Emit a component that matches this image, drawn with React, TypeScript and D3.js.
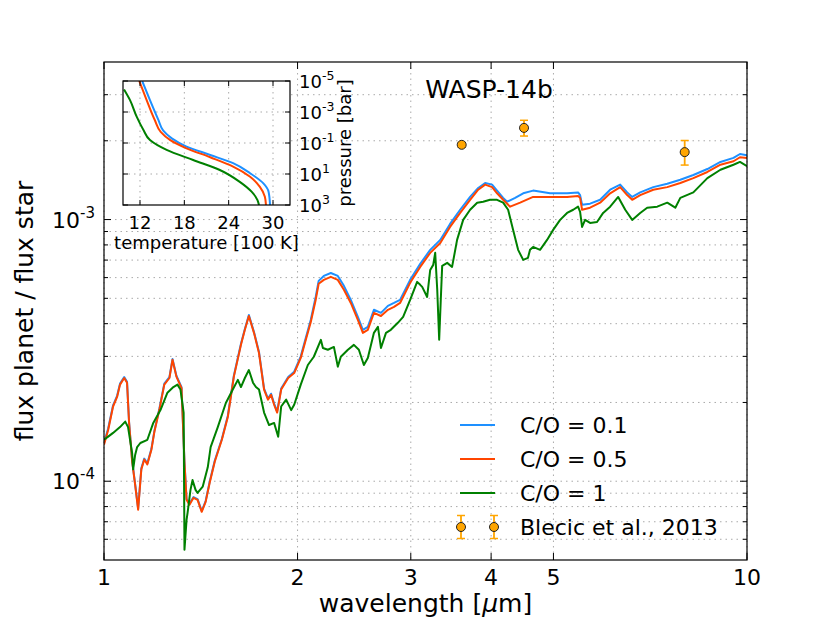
import React from "react";
import * as d3 from "d3";

// ---------- Emission spectra (wavelength in micron, planet/star flux ratio) ----------
const co05Wavelength = [
  1.000, 1.015, 1.033, 1.048, 1.059, 1.075, 1.086, 1.094, 1.106, 1.118,
  1.130, 1.143, 1.155, 1.168, 1.185, 1.198, 1.219, 1.241, 1.264, 1.278,
  1.296, 1.320, 1.334, 1.344, 1.358, 1.378, 1.398, 1.419, 1.439, 1.460,
  1.487, 1.525, 1.558, 1.592, 1.633, 1.656, 1.680, 1.711, 1.742, 1.774,
  1.799, 1.819, 1.839, 1.859, 1.886, 1.934, 1.976, 2.023, 2.060, 2.097,
  2.134, 2.157, 2.197, 2.253, 2.310, 2.361, 2.420, 2.482, 2.527, 2.572,
  2.629, 2.696, 2.764, 2.825, 2.887, 2.993, 3.103, 3.216, 3.334, 3.453,
  3.580, 3.710, 3.819, 3.915, 4.014, 4.086, 4.176, 4.282, 4.438, 4.649,
  4.940, 5.250, 5.461, 5.501, 5.540, 5.701, 5.910, 6.126, 6.350, 6.511,
  6.629, 6.822, 7.149, 7.516, 7.876, 8.252, 8.677, 9.093, 9.528, 9.752,
  10.0,
];
const co05Flux = [
  1.38e-4, 1.57e-4, 1.93e-4, 2.10e-4, 2.34e-4, 2.48e-4, 2.38e-4, 1.67e-4, 1.19e-4, 9.69e-5,
  7.78e-5, 1.11e-4, 1.21e-4, 1.16e-4, 1.32e-4, 1.55e-4, 1.87e-4, 2.34e-4, 2.48e-4, 2.91e-4,
  2.51e-4, 2.27e-4, 1.18e-4, 8.49e-5, 8.13e-5, 8.64e-5, 8.49e-5, 7.64e-5, 8.34e-5, 9.87e-5,
  1.19e-4, 1.44e-4, 1.76e-4, 2.51e-4, 3.32e-4, 3.79e-4, 4.28e-4, 3.69e-4, 3.09e-4, 2.24e-4,
  2.05e-4, 2.14e-4, 1.96e-4, 1.83e-4, 2.24e-4, 2.48e-4, 2.59e-4, 2.96e-4, 3.47e-4, 4.06e-4,
  4.93e-4, 5.68e-4, 5.88e-4, 6.04e-4, 5.88e-4, 5.39e-4, 4.80e-4, 4.14e-4, 3.69e-4, 3.79e-4,
  4.40e-4, 4.28e-4, 4.52e-4, 4.64e-4, 4.80e-4, 5.73e-4, 6.59e-4, 7.46e-4, 8.14e-4, 9.37e-4,
  1.06e-3, 1.19e-3, 1.30e-3, 1.36e-3, 1.33e-3, 1.26e-3, 1.19e-3, 1.12e-3, 1.16e-3, 1.22e-3,
  1.22e-3, 1.22e-3, 1.23e-3, 1.21e-3, 1.09e-3, 1.11e-3, 1.16e-3, 1.26e-3, 1.33e-3, 1.24e-3,
  1.19e-3, 1.24e-3, 1.30e-3, 1.33e-3, 1.38e-3, 1.44e-3, 1.52e-3, 1.62e-3, 1.67e-3, 1.73e-3,
  1.72e-3,
];

const co01Wavelength = [
  1.000, 1.015, 1.033, 1.048, 1.059, 1.075, 1.086, 1.094, 1.106, 1.118,
  1.130, 1.143, 1.155, 1.168, 1.185, 1.198, 1.219, 1.241, 1.264, 1.278,
  1.296, 1.320, 1.334, 1.344, 1.358, 1.378, 1.398, 1.419, 1.439, 1.460,
  1.487, 1.525, 1.558, 1.592, 1.633, 1.656, 1.680, 1.711, 1.742, 1.774,
  1.799, 1.819, 1.839, 1.859, 1.886, 1.934, 1.976, 2.023,
  2.060, 2.097, 2.134, 2.157, 2.197, 2.253, 2.310, 2.361, 2.420, 2.482,
  2.527, 2.572, 2.629, 2.696, 2.764, 2.825, 2.887, 2.993, 3.103, 3.216,
  3.334, 3.453, 3.580, 3.710, 3.819, 3.915, 4.014, 4.086, 4.176, 4.236,
  4.359, 4.487, 4.649, 4.940, 5.250, 5.461, 5.501, 5.540, 5.701, 5.910,
  6.126, 6.350, 6.511, 6.629, 6.822, 7.149, 7.516, 7.876, 8.252, 8.677,
  9.093, 9.528, 9.752, 10.0,
];
const co01Flux = [
  1.40e-4, 1.59e-4, 1.95e-4, 2.12e-4, 2.36e-4, 2.50e-4, 2.40e-4, 1.68e-4, 1.20e-4, 9.75e-5,
  7.85e-5, 1.12e-4, 1.22e-4, 1.17e-4, 1.33e-4, 1.56e-4, 1.89e-4, 2.36e-4, 2.50e-4, 2.93e-4,
  2.53e-4, 2.29e-4, 1.19e-4, 8.55e-5, 8.20e-5, 8.70e-5, 8.55e-5, 7.70e-5, 8.40e-5, 9.95e-5,
  1.20e-4, 1.45e-4, 1.78e-4, 2.53e-4, 3.35e-4, 3.82e-4, 4.32e-4, 3.72e-4, 3.12e-4, 2.26e-4,
  2.07e-4, 2.16e-4, 1.98e-4, 1.85e-4, 2.26e-4, 2.50e-4, 2.62e-4, 3.00e-4,
  3.53e-4, 4.14e-4, 5.06e-4, 5.83e-4, 6.09e-4, 6.25e-4, 6.09e-4, 5.58e-4, 4.93e-4, 4.25e-4,
  3.79e-4, 3.89e-4, 4.52e-4, 4.40e-4, 4.68e-4, 4.80e-4, 4.93e-4, 5.88e-4, 6.77e-4, 7.66e-4,
  8.36e-4, 9.62e-4, 1.09e-3, 1.22e-3, 1.32e-3, 1.38e-3, 1.36e-3, 1.29e-3, 1.21e-3, 1.17e-3,
  1.21e-3, 1.26e-3, 1.29e-3, 1.26e-3, 1.26e-3, 1.27e-3, 1.24e-3, 1.14e-3, 1.15e-3, 1.19e-3,
  1.30e-3, 1.36e-3, 1.27e-3, 1.22e-3, 1.27e-3, 1.33e-3, 1.37e-3, 1.42e-3, 1.48e-3, 1.56e-3,
  1.66e-3, 1.72e-3, 1.78e-3, 1.76e-3,
];

const co1Wavelength = [
  1.000, 1.015, 1.033, 1.059, 1.079, 1.090, 1.106, 1.110, 1.118, 1.126,
  1.139, 1.168, 1.193, 1.224, 1.255, 1.282, 1.301, 1.315, 1.330, 1.334,
  1.344, 1.349, 1.363, 1.373, 1.388, 1.398, 1.424, 1.450, 1.465, 1.503,
  1.547, 1.586, 1.615, 1.633, 1.656, 1.680, 1.705, 1.723, 1.742, 1.774,
  1.806, 1.839, 1.866, 1.886, 1.920, 1.955, 1.976, 2.023, 2.075, 2.120,
  2.174, 2.190, 2.229, 2.278, 2.310, 2.335, 2.395, 2.447, 2.491, 2.536,
  2.572, 2.629, 2.667, 2.696, 2.745, 2.793, 2.864, 2.919, 2.993, 3.069,
  3.103, 3.125, 3.181, 3.216, 3.251, 3.274, 3.298, 3.321, 3.345, 3.357,
  3.418, 3.478, 3.541, 3.619, 3.710, 3.805, 3.887, 3.985, 4.086, 4.176,
  4.251, 4.328, 4.406, 4.487, 4.564, 4.598, 4.649, 4.766, 4.887, 4.995,
  5.121, 5.250, 5.367, 5.461, 5.501, 5.540, 5.600, 5.701, 5.845, 5.974,
  6.126, 6.305, 6.466, 6.629, 6.822, 6.994, 7.251, 7.516, 7.736, 7.876,
  8.252, 8.677, 9.093, 9.528, 9.752, 10.0,
];
const co1Flux = [
  1.44e-4, 1.48e-4, 1.53e-4, 1.61e-4, 1.69e-4, 1.61e-4, 1.28e-4, 1.11e-4, 1.26e-4, 1.35e-4,
  1.40e-4, 1.44e-4, 1.67e-4, 1.87e-4, 2.18e-4, 2.29e-4, 2.34e-4, 2.24e-4, 1.83e-4, 5.47e-5,
  7.12e-5, 7.58e-5, 9.27e-5, 1.01e-4, 9.27e-5, 9.03e-5, 9.53e-5, 1.13e-4, 1.35e-4, 1.61e-4,
  1.99e-4, 2.24e-4, 2.44e-4, 2.29e-4, 2.48e-4, 2.66e-4, 2.38e-4, 2.29e-4, 2.24e-4, 1.83e-4,
  1.64e-4, 1.67e-4, 1.48e-4, 1.93e-4, 2.05e-4, 1.87e-4, 1.96e-4, 2.34e-4, 2.78e-4, 2.99e-4,
  3.47e-4, 3.23e-4, 3.18e-4, 3.26e-4, 2.74e-4, 2.99e-4, 3.18e-4, 3.32e-4, 3.18e-4, 2.78e-4,
  2.96e-4, 3.69e-4, 3.89e-4, 3.23e-4, 3.69e-4, 3.79e-4, 4.03e-4, 4.25e-4, 4.93e-4, 5.78e-4,
  5.63e-4, 5.53e-4, 5.06e-4, 6.42e-4, 6.71e-4, 7.46e-4, 5.39e-4, 3.47e-4, 5.39e-4, 6.65e-4,
  6.83e-4, 6.59e-4, 8.36e-4, 9.97e-4, 1.09e-3, 1.16e-3, 1.17e-3, 1.19e-3, 1.19e-3, 1.16e-3,
  1.09e-3, 9.13e-4, 7.66e-4, 7.01e-4, 7.14e-4, 7.66e-4, 7.86e-4, 7.66e-4, 8.36e-4, 9.13e-4,
  9.97e-4, 1.06e-3, 1.09e-3, 1.12e-3, 1.07e-3, 9.37e-4, 9.97e-4, 9.71e-4, 9.79e-4, 1.06e-3,
  1.12e-3, 1.22e-3, 1.09e-3, 9.97e-4, 1.06e-3, 1.11e-3, 1.12e-3, 1.16e-3, 1.11e-3, 1.21e-3,
  1.27e-3, 1.44e-3, 1.55e-3, 1.62e-3, 1.66e-3, 1.60e-3,
];

// Observations (Blecic et al., 2013)
const obsWavelength = [3.6, 4.5, 8.0];
const obsFlux = [1.93e-3, 2.24e-3, 1.81e-3];
const obsError = [0.04e-3, 0.155e-3, 0.195e-3];

// ---------- Temperature-pressure profiles (inset) ----------
const tpCo01Temp = [12.3, 13.35, 14.5, 15.15, 16.3, 18.3, 21.5, 24.6, 26.9, 28.7, 29.4, 29.6];
const tpCo01Pressure = [1e-5, 1.7e-4, 3.3e-3, 1.6e-2, 5.0e-2, 0.17, 0.59, 2.0, 8.9, 40, 138, 1000];
const tpCo05Temp = [11.9, 12.9, 14.0, 14.8, 16.1, 18.3, 21.5, 24.6, 26.9, 28.2, 28.9, 29.05];
const tpCo05Pressure = [1e-5, 1.7e-4, 3.3e-3, 1.9e-2, 6.5e-2, 0.22, 0.83, 3.3, 15, 65, 290, 1000];
const tpCo1Temp = [9.84, 10.65, 11.55, 12.45, 13.35, 15.6, 19.2, 22.8, 25.5, 27.1, 27.9, 28.1];
const tpCo1Pressure = [3.5e-5, 1.7e-4, 2.0e-3, 1.4e-2, 6.5e-2, 0.28, 1.26, 5.5, 32, 138, 480, 1000];

// ---------- Ticks & labels ----------
const xTickValues = [1, 2, 3, 4, 5, 10];
const yMajorTicks = [1e-4, 1e-3];
const yMajorExponents = ["-4", "-3"];
const yMinorTicks = [6e-5, 7e-5, 8e-5, 9e-5, 2e-4, 3e-4, 4e-4, 5e-4, 6e-4, 7e-4, 8e-4, 9e-4, 2e-3, 3e-3];
const insetTempTicks = [12, 18, 24, 30];
const insetPressureTicks = [1e-5, 1e-3, 1e-1, 1e1, 1e3];
const insetPressureExponents = ["-5", "-3", "-1", "1", "3"];

const seriesLabels = ["C/O = 0.1", "C/O = 0.5", "C/O = 1"];
const seriesColors = ["#1E90FF", "#FF4500", "#008000"];
const obsLabel = "Blecic et al., 2013";
const obsColor = "#FFA500";

const FONT = "DejaVu Sans";
const GRID = "#aaaaaa";

export default function App() {
  const M = { left: 104, right: 747, top: 62, bottom: 560 };
  const I = { left: 123, right: 290, top: 81, bottom: 205 };

  const x = d3.scaleLog().domain([1, 10]).range([M.left, M.right]);
  const y = d3.scaleLog().domain([5e-5, 4e-3]).range([M.bottom, M.top]);
  const ix = d3.scaleLinear().domain([9.7, 32.3]).range([I.left, I.right]);
  const iy = d3.scaleLog().domain([1e-5, 1e3]).range([I.top, I.bottom]);

  const specLine = d3
    .line<[number, number]>()
    .x((d) => x(d[0]))
    .y((d) => y(d[1]));
  const tpLine = d3
    .line<[number, number]>()
    .x((d) => ix(d[0]))
    .y((d) => iy(d[1]))
    .curve(d3.curveMonotoneY);

  const spectra = [
    d3.zip(co01Wavelength, co01Flux) as [number, number][],
    d3.zip(co05Wavelength, co05Flux) as [number, number][],
    d3.zip(co1Wavelength, co1Flux) as [number, number][],
  ];
  const profiles = [
    d3.zip(tpCo01Temp, tpCo01Pressure) as [number, number][],
    d3.zip(tpCo05Temp, tpCo05Pressure) as [number, number][],
    d3.zip(tpCo1Temp, tpCo1Pressure) as [number, number][],
  ];

  const majorLen = 7;
  const minorLen = 4;
  const legendX0 = 460;
  const legendX1 = 495;
  const legendTextX = 520;
  const legendRows = [425, 459, 493, 527];

  return (
    <svg
      width={830}
      height={623}
      style={{ position: "absolute", left: 0, top: 0, background: "#fff" }}
      fontFamily={FONT}
    >
      <rect x={0} y={0} width={830} height={623} fill="#fff" />
      <defs>
        <clipPath id="mainClip">
          <rect x={M.left} y={M.top} width={M.right - M.left} height={M.bottom - M.top} />
        </clipPath>
        <clipPath id="insetClip">
          <rect x={I.left} y={I.top} width={I.right - I.left} height={I.bottom - I.top} />
        </clipPath>
      </defs>

      {/* main grid */}
      <g stroke={GRID} strokeWidth={1} strokeDasharray="1.5,4">
        {xTickValues.map((t) => (
          <line key={"gx" + t} x1={x(t)} x2={x(t)} y1={M.top} y2={M.bottom} />
        ))}
        {[...yMajorTicks, ...yMinorTicks].map((t) => (
          <line key={"gy" + t} x1={M.left} x2={M.right} y1={y(t)} y2={y(t)} />
        ))}
      </g>

      {/* spectra */}
      <g clipPath="url(#mainClip)" fill="none" strokeWidth={2} strokeLinejoin="round">
        {spectra.map((s, i) => (
          <path key={"s" + i} d={specLine(s) || ""} stroke={seriesColors[i]} />
        ))}
      </g>

      {/* observations */}
      <g>
        {obsWavelength.map((w, i) => {
          const cx = x(w);
          const yHi = y(obsFlux[i] + obsError[i]);
          const yLo = y(obsFlux[i] - obsError[i]);
          return (
            <g key={"o" + i}>
              <line x1={cx} x2={cx} y1={yHi} y2={yLo} stroke={obsColor} strokeWidth={1.8} />
              <line x1={cx - 4} x2={cx + 4} y1={yHi} y2={yHi} stroke={obsColor} strokeWidth={1.5} />
              <line x1={cx - 4} x2={cx + 4} y1={yLo} y2={yLo} stroke={obsColor} strokeWidth={1.5} />
              <circle cx={cx} cy={y(obsFlux[i])} r={4.5} fill={obsColor} stroke="#222" strokeWidth={1} />
            </g>
          );
        })}
      </g>

      {/* title */}
      <text x={489} y={98} fontSize={25} textAnchor="middle" fill="#000">
        WASP-14b
      </text>

      {/* legend */}
      <g fontSize={22} fill="#000">
        {seriesLabels.map((lab, i) => (
          <g key={"l" + i}>
            <line
              x1={legendX0}
              x2={legendX1}
              y1={legendRows[i]}
              y2={legendRows[i]}
              stroke={seriesColors[i]}
              strokeWidth={2}
            />
            <text x={legendTextX} y={legendRows[i] + 8}>
              {lab}
            </text>
          </g>
        ))}
        {[461, 494].map((cx) => (
          <g key={"lo" + cx}>
            <line x1={cx} x2={cx} y1={legendRows[3] - 11.5} y2={legendRows[3] + 11.5} stroke={obsColor} strokeWidth={1.8} />
            <line x1={cx - 4} x2={cx + 4} y1={legendRows[3] - 11.5} y2={legendRows[3] - 11.5} stroke={obsColor} strokeWidth={1.5} />
            <line x1={cx - 4} x2={cx + 4} y1={legendRows[3] + 11.5} y2={legendRows[3] + 11.5} stroke={obsColor} strokeWidth={1.5} />
            <circle cx={cx} cy={legendRows[3]} r={4.5} fill={obsColor} stroke="#222" strokeWidth={1} />
          </g>
        ))}
        <text x={legendTextX} y={legendRows[3] + 8}>
          {obsLabel}
        </text>
      </g>

      {/* main ticks */}
      <g stroke="#000" strokeWidth={1}>
        {xTickValues.map((t) => (
          <g key={"tx" + t}>
            <line x1={x(t)} x2={x(t)} y1={M.bottom} y2={M.bottom - majorLen} />
            <line x1={x(t)} x2={x(t)} y1={M.top} y2={M.top + majorLen} />
          </g>
        ))}
        {yMajorTicks.map((t) => (
          <g key={"ty" + t}>
            <line x1={M.left} x2={M.left + majorLen} y1={y(t)} y2={y(t)} />
            <line x1={M.right} x2={M.right - majorLen} y1={y(t)} y2={y(t)} />
          </g>
        ))}
        {yMinorTicks.map((t) => (
          <g key={"tym" + t}>
            <line x1={M.left} x2={M.left + minorLen} y1={y(t)} y2={y(t)} />
            <line x1={M.right} x2={M.right - minorLen} y1={y(t)} y2={y(t)} />
          </g>
        ))}
      </g>
      <rect
        x={M.left}
        y={M.top}
        width={M.right - M.left}
        height={M.bottom - M.top}
        fill="none"
        stroke="#000"
        strokeWidth={1.2}
      />

      {/* main tick labels */}
      <g fontSize={22} fill="#000">
        {xTickValues.map((t) => (
          <text key={"lx" + t} x={x(t)} y={M.bottom + 25} textAnchor="middle">
            {String(t)}
          </text>
        ))}
        {yMajorTicks.map((t, i) => (
          <text key={"ly" + t} x={M.left - 9} y={y(t) + 8} textAnchor="end">
            <tspan>10</tspan>
            <tspan fontSize={15} dy={-10}>
              {yMajorExponents[i]}
            </tspan>
          </text>
        ))}
      </g>

      {/* axis labels */}
      <text x={(M.left + M.right) / 2} y={612} fontSize={25} textAnchor="middle" fill="#000">
        wavelength [<tspan fontStyle="italic">μ</tspan>m]
      </text>
      <text
        transform={`translate(33, ${(M.top + M.bottom) / 2}) rotate(-90)`}
        fontSize={25}
        textAnchor="middle"
        fill="#000"
      >
        flux planet / flux star
      </text>

      {/* ---------- inset ---------- */}
      <rect x={I.left} y={I.top} width={I.right - I.left} height={I.bottom - I.top} fill="#fff" />
      <g stroke={GRID} strokeWidth={1} strokeDasharray="1.5,4">
        {insetTempTicks.map((t) => (
          <line key={"igx" + t} x1={ix(t)} x2={ix(t)} y1={I.top} y2={I.bottom} />
        ))}
        {insetPressureTicks.slice(1, -1).map((t) => (
          <line key={"igy" + t} x1={I.left} x2={I.right} y1={iy(t)} y2={iy(t)} />
        ))}
      </g>
      <g clipPath="url(#insetClip)" fill="none" strokeWidth={2}>
        {profiles.map((p, i) => (
          <path key={"p" + i} d={tpLine(p) || ""} stroke={seriesColors[i]} />
        ))}
      </g>
      <g stroke="#000" strokeWidth={1}>
        {insetTempTicks.map((t) => (
          <g key={"itx" + t}>
            <line x1={ix(t)} x2={ix(t)} y1={I.bottom} y2={I.bottom - 5} />
            <line x1={ix(t)} x2={ix(t)} y1={I.top} y2={I.top + 5} />
          </g>
        ))}
        {insetPressureTicks.map((t) => (
          <g key={"ity" + t}>
            <line x1={I.left} x2={I.left + 5} y1={iy(t)} y2={iy(t)} />
            <line x1={I.right} x2={I.right - 5} y1={iy(t)} y2={iy(t)} />
          </g>
        ))}
      </g>
      <rect
        x={I.left}
        y={I.top}
        width={I.right - I.left}
        height={I.bottom - I.top}
        fill="none"
        stroke="#000"
        strokeWidth={1.2}
      />
      <g fontSize={18} fill="#000">
        {insetTempTicks.map((t) => (
          <text key={"ilx" + t} x={ix(t)} y={I.bottom + 24} textAnchor="middle">
            {String(t)}
          </text>
        ))}
        {insetPressureTicks.map((t, i) => (
          <text key={"ily" + t} x={I.right + 9} y={iy(t) + 6.5}>
            <tspan>10</tspan>
            <tspan fontSize={12.5} dy={-8}>
              {insetPressureExponents[i]}
            </tspan>
          </text>
        ))}
        <text x={(I.left + I.right) / 2} y={249} textAnchor="middle">
          temperature [100 K]
        </text>
        <text transform={`translate(351, ${(I.top + I.bottom) / 2}) rotate(-90)`} textAnchor="middle">
          pressure [bar]
        </text>
      </g>
    </svg>
  );
}
